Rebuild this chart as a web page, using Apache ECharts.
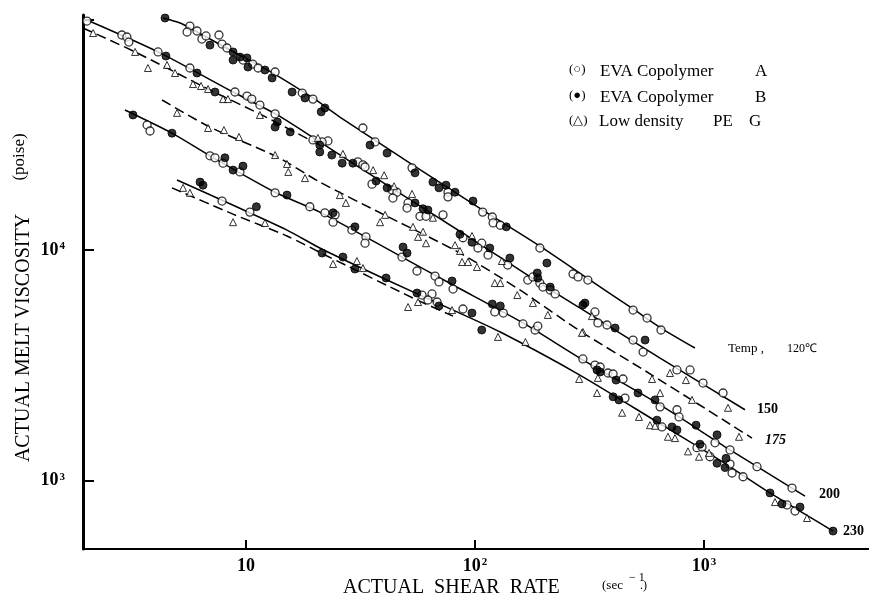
<!DOCTYPE html>
<html>
<head>
<meta charset="utf-8">
<style>
html,body{margin:0;padding:0;background:#fff;}
#chart{width:869px;height:598px;}
</style>
<script src="https://cdn.jsdelivr.net/npm/echarts@6/dist/echarts.min.js"></script>
</head>
<body>
<div id="chart"></div>
<script>
// ---- Data: [shear rate (1/s), melt viscosity (poise)] ----
var evaA = [
[2.02,98300],[2.87,85500],[3.02,83800],[3.08,79700],[4.13,72200],[5.69,61500],[8.95,48400],[10.1,46500],[10.6,45100],[11.5,42500],[13.4,38900],
[5.69,93500],[5.53,88100],[6.11,89000],[6.42,82100],[6.69,84700],[7.62,85500],[7.86,78100],[8.26,75100],[9.70,66600],[10.7,64000],[11.3,61500],[13.4,59100],[17.6,47900],[19.6,45100],
[3.70,34800],[3.81,32800],[6.96,25600],[7.32,25100],[7.94,23800],[9.41,21800],[13.4,17700],[19.0,15400],[24.5,14200],[7.86,16300],[10.4,14600],[19.6,30000],[22.8,29700],
[32.4,33800],[36.6,29400],[53.1,22700],[76.2,17800],[76.2,17000],[108,14600],[119,13900],[120,13100],[129,12800],[192,10200],[268,7870],[282,7640],[311,7410],
[21.5,29400],[30.8,24100],[32.4,23400],[33.1,22900],[35.5,19300],[43.4,18200],[45.6,17800],[43.8,16800],[51.0,16000],[50.5,15200],[57.5,14000],[61.1,14000],[72.5,14200],[88.6,11300],[107,10700],[103,10200],[114,9510],[139,8610],[170,7410],[179,7640],[192,7190],[198,6910],[213,6710],[224,6450],[334,5390],
[22.1,14500],[24.0,13200],[29.0,12200],[33.4,11400],[33.1,10700],[48.0,9320],[55.8,8110],[66.9,7710],[69.6,7270],[80.2,6770],[88.6,5550],[122,5390],[133,5330],[162,4780],[183,4500],[188,4680],[58.7,6380],[64.9,6450],[62.3,6070],[68.3,5950],
[490,5490],[564,5070],[649,4500],[344,4830],[377,4730],[490,4070],[542,3610],[762,3020],[869,3020],[990,2650],[1211,2400],
[296,3370],[334,3170],[352,3110],[381,2930],[401,2900],[443,2760],[643,2090],[762,2030],[778,1890],[1117,1460],[1299,1360],[1704,1150],[2423,929],
[452,2280],[655,1710],[932,1390],[980,1400],[1062,1270],[1299,1180],[1326,1080],[1481,1040],[2304,785],[2497,739]
];
var evaB = [
[4.43,101300],[6.96,77300],[8.78,72200],[8.78,66600],[9.41,68600],[10.1,68000],[10.2,62100],[12.1,60300],[13.0,55700],[15.9,48400],[18.1,45600],[22.1,41300],
[4.47,69300],[6.11,58500],[7.32,48400],[13.7,35900],[13.4,34100],[15.6,32500],[21.0,28500],
[3.21,38500],[4.75,32100],[8.09,25100],[9.70,23100],[8.78,22200],[6.30,19700],[6.49,19100],[15.1,17300],[11.1,15400],[24.0,14500],
[34.8,28500],[41.3,26300],[54.7,21600],[65.5,19700],[69.6,18600],[74.7,19100],[81.8,17800],[98.0,16300],[137,12600],[21.3,39700],
[21.0,26600],[23.7,25800],[26.3,23800],[29.3,23800],[37.0,19900],[41.3,18600],[54.7,16000],[59.3,15100],[62.3,14900],[86.0,11700],[97.0,10800],[116,10200],[142,9230],[187,7950],[188,7560],[213,6910],[302,5890],[206,8780],
[29.9,12600],[48.5,10300],[50.5,9700],[79.4,7340],[119,5830],[129,5720],
[21.5,9700],[26.5,9320],[29.9,8270],[40.9,7560],[55.8,6510],[69.6,5720],[97.0,5330],[107,4500],
[296,5780],[409,4590],[553,4070],
[341,3020],[352,2960],[413,2730],[515,2400],[611,2240],[923,1740],[1140,1580],
[401,2310],[425,2240],[623,1830],[725,1710],[762,1660],[960,1440],[1140,1190],[1248,1250],[1236,1140],[1942,885],[2191,793],[2626,769],[3659,605]
];
var peG = [
[2.15,87200],[3.28,72200],[3.73,61500],[4.52,63400],[4.90,58500],[5.87,52400],[6.36,51400],[6.83,49900],[7.94,45100],[8.34,45100],[11.5,38500],
[5.00,39300],[6.83,33800],[8.01,33100],[9.32,30900],[13.4,25800],[15.1,23600],[15.3,21800],[18.1,20500],[20.6,30600],
[5.31,18600],[5.69,17700],[8.78,13200],[12.1,13100],
[26.5,26100],[35.9,22200],[40.1,21100],[44.3,18900],[53.1,17500],[65.5,13800],[97.0,11500],[131,8960],
[25.7,17300],[27.3,16000],[40.5,14200],[38.5,13200],[53.6,12600],[56.4,11400],[59.3,12000],[61.1,10700],[81.8,10500],[86.0,9900],[87.8,8870],[93.2,8870],[102,8440],[122,7190],[129,7190],[153,6380],[179,5890],[208,5230],[296,4410],
[30.5,8960],[24.0,8700],[32.4,8350],[51.0,5660],[56.4,5950],[79.4,5490],[126,4200],[166,3990],
[324,5170],[710,2930],[834,2730],[1273,2070],[293,4370],[593,2760],[643,2400],[886,2240],[1422,1550],
[344,2790],[341,2400],[439,1970],[520,1890],[581,1740],[611,1730],[696,1550],[747,1530],[851,1340],[951,1270],[1052,1320],[2042,808],[2818,689],[285,2760]
];
// fitted curves
var line120 = [[4.34,101300],[5.15,96400],[5.69,91700],[8.51,73600],[13.1,58500],[19.6,45600],[25.7,37700],[52.0,23800],[108,14900],[192,10400],[318,7410],[490,5550],[649,4590],[913,3760]];
var line150 = [[2.02,99300],[4.13,72200],[8.78,48400],[13.7,38500],[21.0,29400],[41.3,19100],[95.1,11300],[192,7190],[287,5610],[643,3400],[1510,2030]];
var linePE120 = [[1.94,91700],[3.28,72200],[6.96,49400],[11.7,38500],[21.0,28500]];
var line175 = [[4.30,44700],[6.96,34100],[13.7,25300],[21.0,19700],[38.5,14500],[86.0,9700],[157,6710],[287,4460],[593,2870],[1620,1530]];
var line200 = [[2.96,40440],[4.75,32100],[6.96,25600],[13.4,17800],[21.0,14600],[48.0,9320],[80.2,7050],[162,4830],[287,3400],[643,2130],[1299,1360],[2760,858]];
var line230 = [[5.00,20100],[15.1,12200],[21.0,10200],[41.3,7410],[80.2,5490],[129,4410],[287,2870],[623,1800],[1140,1250],[1942,885],[3659,605]];
var linePE230 = [[4.75,18600],[8.78,14300],[15.1,11500],[22.6,9420],[53.6,6190],[80.2,5170]];

var xTickLabels = {'1':'{b|10}','2':'{b|10}{s|2}','3':'{b|10}{s|3}'};
var yTickLabels = {'3':'{b|10}{s|3}','4':'{b|10}{s|4}'};

var SERIF = "'Liberation Serif','Times New Roman',serif";
var chart = echarts.init(document.getElementById('chart'));

function lbl(map){
  return function(v){
    var e = Math.log10(v), r = Math.round(e);
    if (Math.abs(e - r) > 1e-6) return '';
    return map[String(r)] || '';
  };
}
var richTick = {
  b:{fontSize:18,fontWeight:'bold',fontFamily:SERIF,color:'#000'},
  s:{fontSize:11,fontWeight:'bold',fontFamily:SERIF,color:'#000',verticalAlign:'top',padding:[0,0,0,1]}
};
function lineSeries(name,data,dashed){
  return {name:name,type:'line',data:data,showSymbol:false,smooth:0.25,silent:true,z:2,
    lineStyle:{color:'#000',width:1.5,type:dashed?[10,5]:'solid'}};
}
function txt(x,y,text,font,align,rot){
  var o = {type:'text',x:x,y:y,z:10,style:{text:text,font:font,fill:'#000',
    textAlign:align||'left',textVerticalAlign:'middle',verticalAlign:'middle'}};
  if (rot) o.rotation = rot;
  return o;
}

chart.setOption({
  animation:false,
  backgroundColor:'#fff',
  grid:{left:83,right:0,top:15,bottom:49,containLabel:false},
  xAxis:{type:'log',logBase:10,min:1.942,max:5254,
    axisLine:{show:true,lineStyle:{color:'#000',width:2}},
    axisTick:{show:true,inside:true,length:9,lineStyle:{color:'#000',width:2}},
    minorTick:{show:false},splitLine:{show:false},
    axisLabel:{formatter:lbl(xTickLabels),rich:richTick,margin:8,showMinLabel:false,showMaxLabel:false}},
  yAxis:{type:'log',logBase:10,min:505.7,max:104400,
    axisLine:{show:true,lineStyle:{color:'#000',width:3}},
    axisTick:{show:true,inside:true,length:11,lineStyle:{color:'#000',width:2}},
    minorTick:{show:false},splitLine:{show:false},
    axisLabel:{formatter:lbl(yTickLabels),rich:richTick,margin:18,showMinLabel:false,showMaxLabel:false}},
  series:[
    lineSeries('120 EVA',line120,false),
    lineSeries('150 EVA',line150,false),
    lineSeries('PE G 120',linePE120,true),
    lineSeries('175',line175,true),
    lineSeries('200',line200,false),
    lineSeries('230',line230,false),
    lineSeries('PE G 230',linePE230,true),
    {name:'EVA Copolymer A',type:'scatter',data:evaA,symbol:'circle',symbolSize:8,z:5,
      itemStyle:{color:'#fff',borderColor:'#000',borderWidth:1.3}},
    {name:'EVA Copolymer B',type:'scatter',data:evaB,symbol:'circle',symbolSize:8,z:6,
      itemStyle:{color:'#000',borderColor:'#000',borderWidth:1}},
    {name:'Low density PE G',type:'scatter',data:peG,symbol:'triangle',symbolSize:7,z:5,
      itemStyle:{color:'#fff',borderColor:'#000',borderWidth:1}}
  ],
  graphic:[
    txt(24,338,'ACTUAL MELT VISCOSITY','20px '+SERIF,'center',Math.PI/2),
    txt(20,157,'(poise)','17px '+SERIF,'center',Math.PI/2),
    txt(343,588,'ACTUAL  SHEAR  RATE','20px '+SERIF,'left'),
    txt(602,586,'(sec','13px '+SERIF,'left'),
    txt(629,578,'\u2212 1','12px '+SERIF,'left'),
    txt(640,586,'.)','12px '+SERIF,'left'),
    txt(569,70,'(\u25CB)','13px '+SERIF,'left'),
    txt(600,72,'EVA Copolymer','17px '+SERIF,'left'),
    txt(755,72,'A','17px '+SERIF,'left'),
    txt(569,96,'(\u25CF)','13px '+SERIF,'left'),
    txt(600,98,'EVA Copolymer','17px '+SERIF,'left'),
    txt(755,98,'B','17px '+SERIF,'left'),
    txt(569,121,'(\u25B3)','13px '+SERIF,'left'),
    txt(599,122,'Low density','17px '+SERIF,'left'),
    txt(713,122,'PE','17px '+SERIF,'left'),
    txt(749,122,'G','17px '+SERIF,'left'),
    txt(728,349,'Temp ,','13px '+SERIF,'left'),
    txt(787,349,'120\u2103','12px '+SERIF,'left'),
    txt(757,409,'150','bold 14px '+SERIF,'left'),
    txt(765,440,'175','bold italic 14px '+SERIF,'left'),
    txt(819,494,'200','bold 14px '+SERIF,'left'),
    txt(843,531,'230','bold 14px '+SERIF,'left')
  ]
});
</script>
</body>
</html>
